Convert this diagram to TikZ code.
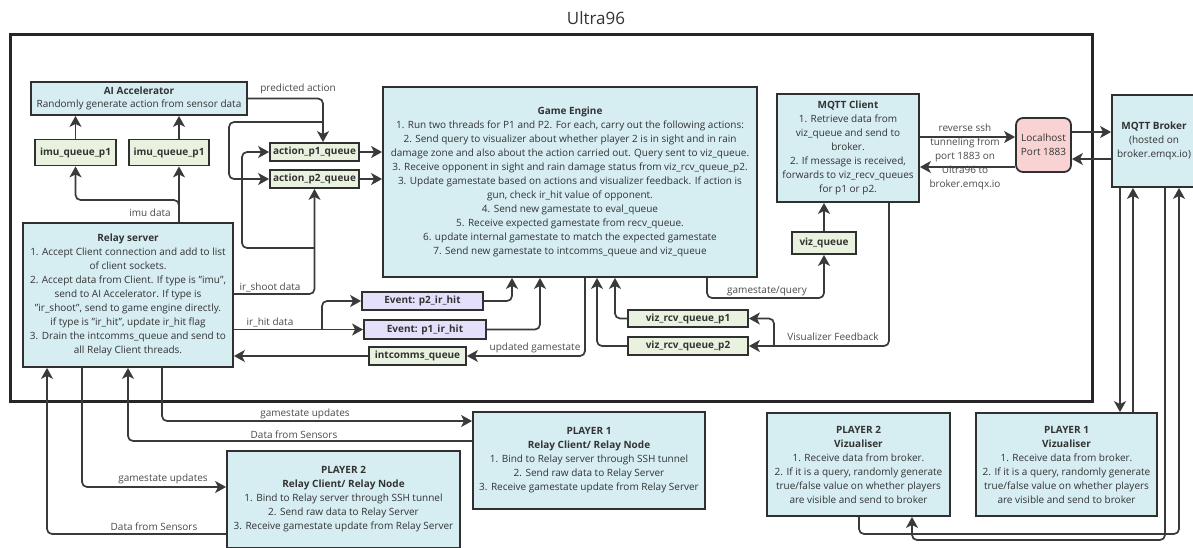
\documentclass[tikz,border=0pt]{standalone}
\usepackage{fontspec}
\setmainfont{Open Sans}
\usetikzlibrary{arrows.meta}
\definecolor{boxblue}{HTML}{D6EDF2}
\definecolor{qgreen}{HTML}{E9F2DF}
\definecolor{evlav}{HTML}{E4E0FB}
\definecolor{hostpink}{HTML}{F9D3D3}
\definecolor{edge}{HTML}{303030}
\definecolor{wire}{HTML}{3A3A3A}
\definecolor{txt}{HTML}{333333}
\definecolor{lbltxt}{HTML}{4A4A4A}
\begin{document}
\begin{tikzpicture}[x=1pt,y=-1pt,
  font=\fontsize{10}{14}\selectfont,
  sz/.style 2 args={minimum width=#1pt, minimum height=#2pt},
  box/.style={draw=edge, line width=1.8pt, fill=boxblue, align=center, text=txt, inner sep=0pt},
  queue/.style={draw=edge, line width=1.8pt, fill=qgreen, text=txt, inner sep=0pt,
                font=\fontsize{10}{11}\selectfont\bfseries},
  event/.style={queue, fill=evlav},
  hostbox/.style={box, fill=hostpink, rounded corners=7pt},
  frame/.style={draw=black!85, line width=3pt, inner sep=0pt},
  conn/.style={draw=wire, line width=1.7pt, rounded corners=5pt},
  arr/.style={conn, -{Stealth[length=11pt,width=12pt,inset=3pt]}},
  lbl/.style={text=lbltxt, inner sep=0pt, align=center, font=\fontsize{10}{14}\selectfont}
]
\useasboundingbox (0,0) rectangle (1193,547);

% outer board frame
\node[frame, sz={1082}{367}] (ultra) at (551,217.5) {};
\node[text=txt, font=\fontsize{17}{20}\selectfont] (title) at (596,18) {Ultra96};

% processing blocks on the board
\node[box, sz={216}{33}] (ai) at (139,98.5)
  {\textbf{AI Accelerator}\\[-1pt]Randomly generate action from sensor data};
\node[queue, sz={81}{26}] (imua) at (75.5,152.5) {imu\_queue\_p1};
\node[queue, sz={80}{26}] (imub) at (169,152.5) {imu\_queue\_p1};

\node[box, sz={210}{144}] (relay) at (128,295)
  {\textbf{Relay server}\\
   1. Accept Client connection and add to list\\
   of client sockets.\\
   2. Accept data from Client. If type is "imu",\\
   send to AI Accelerator. If type is\\
   "ir\_shoot", send to game engine directly.\\
   if type is "ir\_hit", update ir\_hit flag\\
   3. Drain the intcomms\_queue and send to\\
   all Relay Client threads.};

\node[queue, sz={89}{18}] (actp1) at (314.5,152) {action\_p1\_queue};
\node[queue, sz={89}{18}] (actp2) at (314.5,179) {action\_p2\_queue};

\node[box, sz={374}{190}] (ge) at (570,182)
  {\textbf{Game Engine}\\
   1. Run two threads for P1 and P2. For each, carry out the following actions:\\
   2. Send query to visualizer about whether player 2 is in sight and in rain\\
   damage zone and also about the action carried out. Query sent to viz\_queue.\\
   3. Receive opponent in sight and rain damage status from viz\_rcv\_queue\_p2.\\
   3. Update gamestate based on actions and visualizer feedback. If action is\\
   gun, check ir\_hit value of opponent.\\
   4. Send new gamestate to eval\_queue\\
   5. Receive expected gamestate from recv\_queue.\\
   6. update internal gamestate to match the expected gamestate\\
   7. Send new gamestate to intcomms\_queue and viz\_queue};

\node[event, sz={121}{18}] (evp2) at (422.5,301) {Event: p2\_ir\_hit};
\node[event, sz={122}{19}] (evp1) at (425,329.5) {Event: p1\_ir\_hit};
\node[queue, sz={97}{18}] (intq) at (417.5,356) {intcomms\_queue};
\node[queue, sz={120}{17}] (vrq1) at (688,318.5) {viz\_rcv\_queue\_p1};
\node[queue, sz={120}{18}] (vrq2) at (688,346) {viz\_rcv\_queue\_p2};
\node[queue, sz={64}{22}] (vizq) at (824,243) {viz\_queue};

\node[box, sz={142}{108}] (mqtt) at (848,148)
  {\textbf{MQTT Client}\\
   1. Retrieve data from\\
   viz\_queue and send to\\
   broker.\\
   2. If message is received,\\
   forwards to viz\_recv\_queues\\
   for p1 or p2.};
\node[hostbox, sz={55}{54}] (host) at (1043.5,145) {Localhost\\Port 1883};
\node[box, sz={84}{92}] (broker) at (1154,141)
  {\textbf{MQTT Broker}\\(hosted on\\broker.emqx.io)};

% devices outside the board
\node[box, sz={232}{97}] (p1relay) at (589,460.5)
  {\textbf{PLAYER 1}\\
   \textbf{Relay Client/ Relay Node}\\
   1. Bind to Relay server through SSH tunnel\\
   2. Send raw data to Relay Server\\
   3. Receive gamestate update from Relay Server};
\node[box, sz={233}{97}] (p2relay) at (343.5,499.5)
  {\textbf{PLAYER 2}\\
   \textbf{Relay Client/ Relay Node}\\
   1. Bind to Relay server through SSH tunnel\\
   2. Send raw data to Relay Server\\
   3. Receive gamestate update from Relay Server};
\node[box, sz={183}{103}] (p2viz) at (858.5,464.5)
  {\textbf{PLAYER 2}\\
   \textbf{Vizualiser}\\
   1. Receive data from broker.\\
   2. If it is a query, randomly generate\\
   true/false value on whether players\\
   are visible and send to broker};
\node[box, sz={181}{103}] (p1viz) at (1066.5,464.5)
  {\textbf{PLAYER 1}\\
   \textbf{Vizualiser}\\
   1. Receive data from broker.\\
   2. If it is a query, randomly generate\\
   true/false value on whether players\\
   are visible and send to broker};

% sensor data into the accelerator
\draw[arr] (imua.north) -- (imua.north |- ai.south);
\draw[arr] (imub.north -| 179,0) -- (ai.south -| 179,0);
\coordinate (imutap) at (relay.north -| 179,0);
\draw[arr] (imutap) -- (imub.south -| 179,0);
\draw[arr] (imutap) -- (179,200) -| (imua.south);
\node[lbl] (limu) at (150,213) {imu data};

% predicted actions into the action queues
\draw[arr] (ai.east) -| (actp1.north -| 323,0);
\draw[arr] (323,122) -- (229,122) -- (229,179) -- (actp2.west);
\node[lbl] (lpred) at (298,89) {predicted action};

% ir_shoot data
\draw[arr] (relay.east |- 0,294) -| (actp2.south);
\draw[arr] (314,248) -- (242,248) -- (242,152) -- (actp1.west);
\node[lbl] (lshoot) at (270,287) {ir\_shoot data};

% action queues into the game engine
\draw[arr] (actp1.east) -- (ge.west |- actp1.east);
\draw[arr] (actp2.east) -- (ge.west |- actp2.east);

% ir_hit data
\draw[arr] (relay.east |- 0,329.5) -- (evp1.west);
\draw[arr] (322,329.5) -- (322,301) -- (evp2.west);
\node[lbl] (lhit) at (270,322) {ir\_hit data};
\draw[arr] (evp2.east) -| (ge.south -| 512,0);
\draw[arr] (evp1.east) -| (ge.south -| 540,0);

% game engine outputs
\draw[arr] (ge.south -| 585,0) |- (intq.east);
\node[lbl] (lupd) at (535,348) {updated gamestate};
\draw[arr] (intq.west) -- (relay.east |- intq.west);
\draw[arr] (vrq1.west) -| (ge.south -| 615,0);
\draw[arr] (vrq2.west) -| (ge.south -| 597,0);
\draw[arr] (ge.south -| 707,0) -- (707,298) -| (vizq.south);
\node[lbl] (lgq) at (767,291) {gamestate/query};
\draw[arr] (vizq.north) -- (vizq.north |- mqtt.south);

% visualizer feedback into the receive queues
\draw[arr] (mqtt.south -| 889,0) |- (vrq2.east);
\draw[arr] (774,346) |- (vrq1.east);
\node[lbl] (lfb) at (833,337) {Visualizer Feedback};

% tunnel to the broker
\draw[arr] (mqtt.east |- 0,137) -- (host.west |- 0,137);
\draw[arr] (host.west |- 0,167) -- (mqtt.east |- 0,167);
\node[lbl] (ltun) at (965,157)
  {reverse ssh\\tunneling from\\port 1883 on\\Ultra96 to\\broker.emqx.io};
\draw[arr] (host.east |- 0,132) -- (broker.west |- 0,132);
\draw[arr] (broker.west |- 0,159) -- (host.east |- 0,159);

% broker and visualisers
\draw[arr] (broker.south -| 1120,0) -- (p1viz.north -| 1120,0);
\draw[arr] (p1viz.north -| 1133,0) -- (broker.south -| 1133,0);
\draw[arr] (broker.south -| 1165,0) |- (912,540) -- (p2viz.south -| 912,0);
\draw[arr] (p2viz.south -| 859,0) |- (1179,534) -- (broker.south -| 1179,0);

% relay server and relay clients
\draw[arr] (relay.south -| 162,0) |- (p1relay.west |- 0,421);
\node[lbl] (lgs1) at (305,414) {gamestate updates};
\draw[arr] (p1relay.west |- 0,441) -| (relay.south -| 128,0);
\node[lbl] (lds1) at (294,435) {Data from Sensors};
\draw[arr] (relay.south -| 82,0) |- (p2relay.west |- 0,487);
\node[lbl] (lgs2) at (163,479) {gamestate updates};
\draw[arr] (p2relay.west |- 0,534) -| (relay.south -| 47,0);
\node[lbl] (lds2) at (154,527) {Data from Sensors};
\end{tikzpicture}
\end{document}
